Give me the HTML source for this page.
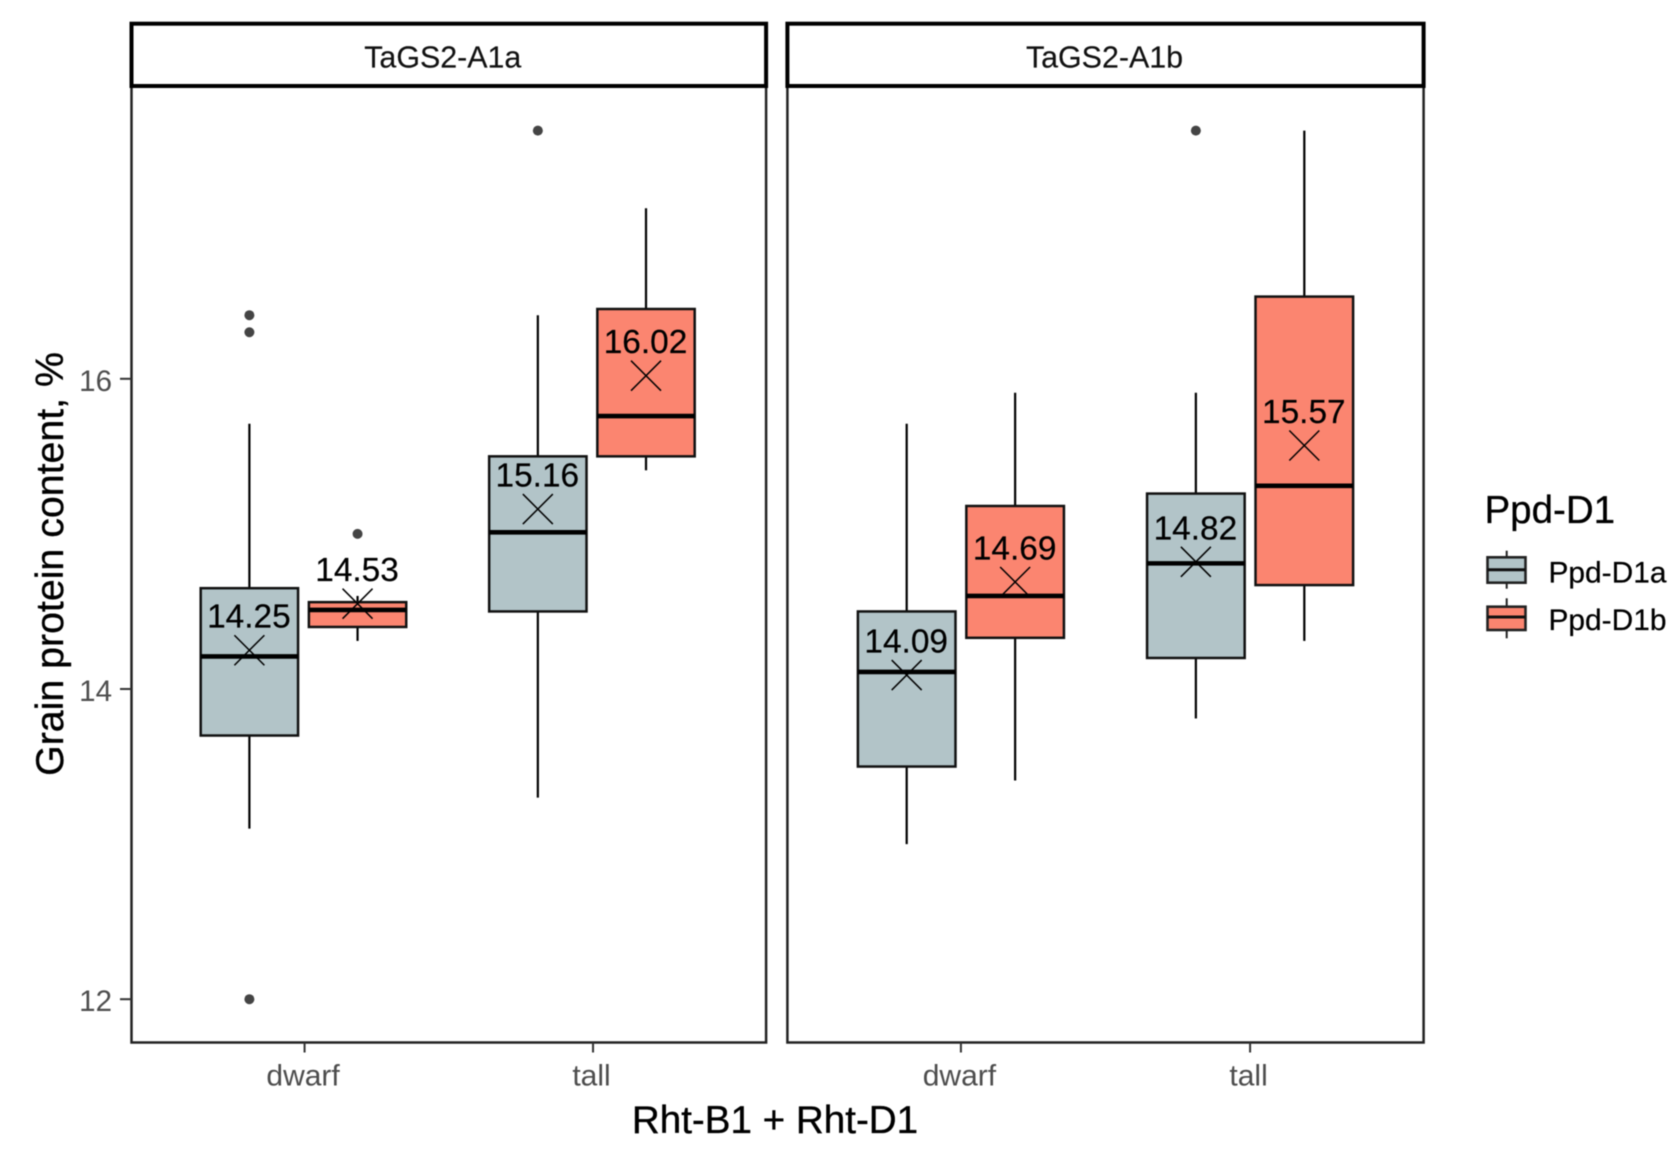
<!DOCTYPE html>
<html lang="en">
<head>
<meta charset="utf-8">
<title>Grain protein content boxplots</title>
<style>
html,body{margin:0;padding:0;background:#fff;}
svg{display:block;filter:blur(0.4px);}
text{font-family:"Liberation Sans",Arial,sans-serif;stroke-linejoin:round;}
</style>
</head>
<body>
<svg id="chart" xmlns="http://www.w3.org/2000/svg" width="1677" height="1150" viewBox="0 0 1677 1150">
  <rect x="0" y="0" width="1677" height="1150" fill="#ffffff"/>
  <text transform="translate(63,564) rotate(-90)" text-anchor="middle" font-size="39.3" fill="#000" stroke="#000" stroke-width="0.35">Grain protein content, %</text>
  <text x="775" y="1133" text-anchor="middle" font-size="38.6" fill="#000" stroke="#000" stroke-width="0.35">Rht-B1 + Rht-D1</text>
  <g>
    <text x="1484.5" y="523" font-size="38.5" fill="#000" stroke="#000" stroke-width="0.3">Ppd-D1</text>
    <g>
      <line x1="1506.7" x2="1506.7" y1="550.7" y2="588.7" stroke="#222" stroke-width="2"/>
      <rect x="1487.5" y="557.3" width="38" height="25.4" fill="#b2c4c8" stroke="#222" stroke-width="2.6"/>
      <line x1="1487.5" x2="1525.5" y1="569.7" y2="569.7" stroke="#111" stroke-width="3"/>
      <text x="1548.5" y="582.5" font-size="29.9" fill="#000" stroke="#000" stroke-width="0.2">Ppd-D1a</text>
    </g>
    <g>
      <line x1="1506.7" x2="1506.7" y1="598.3" y2="638.3" stroke="#222" stroke-width="2"/>
      <rect x="1487.5" y="606.7" width="38" height="23.3" fill="#fb8570" stroke="#222" stroke-width="2.6"/>
      <line x1="1487.5" x2="1525.5" y1="617" y2="617" stroke="#111" stroke-width="3"/>
      <text x="1548.5" y="630" font-size="29.9" fill="#000" stroke="#000" stroke-width="0.2">Ppd-D1b</text>
    </g>
  </g>
  <g id="plot"></g>
</svg>
<script>
// Data: boxes ordered panel A (dwarf a, dwarf b, tall a, tall b), then panel B (same order).
const panelNames = ['TaGS2-A1a', 'TaGS2-A1b'];
const categories = ['dwarf', 'tall'];
const groups = ['Ppd-D1a', 'Ppd-D1b'];
const yTickValues = [12, 14, 16];
const whiskerLow  = [13.10, 14.31, 13.30, 15.41,   13.00, 13.41, 13.81, 14.31];
const q1          = [13.70, 14.40, 14.50, 15.50,   13.50, 14.33, 14.20, 14.67];
const medians     = [14.21, 14.51, 15.01, 15.76,   14.11, 14.60, 14.81, 15.31];
const q3          = [14.65, 14.56, 15.50, 16.45,   14.50, 15.18, 15.26, 16.53];
const whiskerHigh = [15.71, 14.60, 16.41, 17.10,   15.71, 15.91, 15.91, 17.60];
const means       = [14.25, 14.55, 15.16, 16.02,   14.09, 14.69, 14.82, 15.57];
const meanLabels  = ['14.25', '14.53', '15.16', '16.02', '14.09', '14.69', '14.82', '15.57'];
const outliers    = [[16.41, 16.30, 12.00], [15.00], [17.60], [],   [], [], [17.60], []];

const NS = 'http://www.w3.org/2000/svg';
const plot = document.getElementById('plot');
const panelLeft = [131.5, 787.4];
const panelWidths = [634.6, 636.2];
const markShift = [-1.1, 0];
const stripTop = 23.7, stripBottom = 86, panelBottom = 1042.5;
const groupFills = ['#b2c4c8', '#fb8570'];
const stripShift = [-6, -1];

function yScale(v) { return 689 - (v - 14) * 155.1; }
function unitWidth(p) { return panelWidths[p] / 2.2; }
function xCat(p, c) { return panelLeft[p] + (c + 0.6) * unitWidth(p); }
function xBox(p, c, g) { return xCat(p, c) + markShift[p] + (g === 0 ? -0.1875 : 0.1875) * unitWidth(p); }
function boxHalfWidth(p) { return 0.16875 * unitWidth(p); }

function mk(tag, attrs, parent, txt) {
  const el = document.createElementNS(NS, tag);
  for (const k in attrs) el.setAttribute(k, attrs[k]);
  if (txt !== undefined) el.textContent = txt;
  parent.appendChild(el);
  return el;
}

panelNames.forEach(function (name, p) {
  const L = panelLeft[p], R = L + panelWidths[p];
  const pg = mk('g', {}, plot);
  
  

  const border = mk('rect', { x: L, y: stripBottom, width: panelWidths[p], height: panelBottom - stripBottom, fill: '#fff', stroke: '#222', 'stroke-width': 2.5 }, pg);
  
  

  const strip = mk('rect', { x: L, y: stripTop, width: panelWidths[p], height: stripBottom - stripTop, fill: '#fff', stroke: '#000', 'stroke-width': 4 }, pg);
  
  

  const stripText = mk('text', { x: (L + R) / 2 + stripShift[p], y: 67.5, 'text-anchor': 'middle', 'font-size': 30.4, fill: '#111', stroke: '#111', 'stroke-width': 0.15 }, pg, name);
  
  

  categories.forEach(function (cat, c) {
    const tx = xCat(p, c);
    const tick = mk('line', { x1: tx, x2: tx, y1: panelBottom, y2: panelBottom + 10, stroke: '#333', 'stroke-width': 2 }, pg);
    
    
    const lab = mk('text', { x: tx - 1.5, y: 1085.5, 'text-anchor': 'middle', 'font-size': 30, fill: '#4d4d4d' }, pg, cat);
    
    

    groups.forEach(function (grp, g) {
      const i = p * 4 + c * 2 + g;
      const cx = xBox(p, c, g), hw = boxHalfWidth(p);
      const bg = mk('g', {}, pg);
      
      

      const wHi = mk('line', { x1: cx, x2: cx, y1: yScale(whiskerHigh[i]), y2: yScale(q3[i]), stroke: '#000', 'stroke-width': 2.2 }, bg);
      
      

      const wLo = mk('line', { x1: cx, x2: cx, y1: yScale(q1[i]), y2: yScale(whiskerLow[i]), stroke: '#000', 'stroke-width': 2.2 }, bg);
      
      

      const box = mk('rect', { x: cx - hw, y: yScale(q3[i]), width: 2 * hw, height: yScale(q1[i]) - yScale(q3[i]), fill: groupFills[g], stroke: '#111', 'stroke-width': 2.5 }, bg);
      
      

      const med = mk('line', { x1: cx - hw, x2: cx + hw, y1: yScale(medians[i]), y2: yScale(medians[i]), stroke: '#000', 'stroke-width': 4.6 }, bg);
      
      

      outliers[i].forEach(function (v) {
        const dot = mk('circle', { cx: cx, cy: yScale(v), r: 5, fill: '#444' }, bg);
        
        
      });

      const my = yScale(means[i]);
      const xm = mk('path', { d: 'M' + (cx - 15) + ' ' + (my - 15) + 'L' + (cx + 15) + ' ' + (my + 15) + 'M' + (cx - 15) + ' ' + (my + 15) + 'L' + (cx + 15) + ' ' + (my - 15), fill: 'none', stroke: '#000', 'stroke-width': 1.5 }, bg);
      
      

      const mt = mk('text', { x: cx - 0.5, y: my - 22.5, 'text-anchor': 'middle', 'font-size': 33.4, fill: '#000', stroke: '#000', 'stroke-width': 0.2 }, bg, meanLabels[i]);
      
      
    });
  });

  if (p === 0) {
    yTickValues.forEach(function (v) {
      const ty = yScale(v);
      const t = mk('line', { x1: L - 11.5, x2: L, y1: ty, y2: ty, stroke: '#333', 'stroke-width': 2 }, pg);
      
      
      const tl = mk('text', { x: 112, y: ty + 12, 'text-anchor': 'end', 'font-size': 29.5, fill: '#4d4d4d' }, pg, String(v));
      
      
    });
  }
});
</script>
</body>
</html>
